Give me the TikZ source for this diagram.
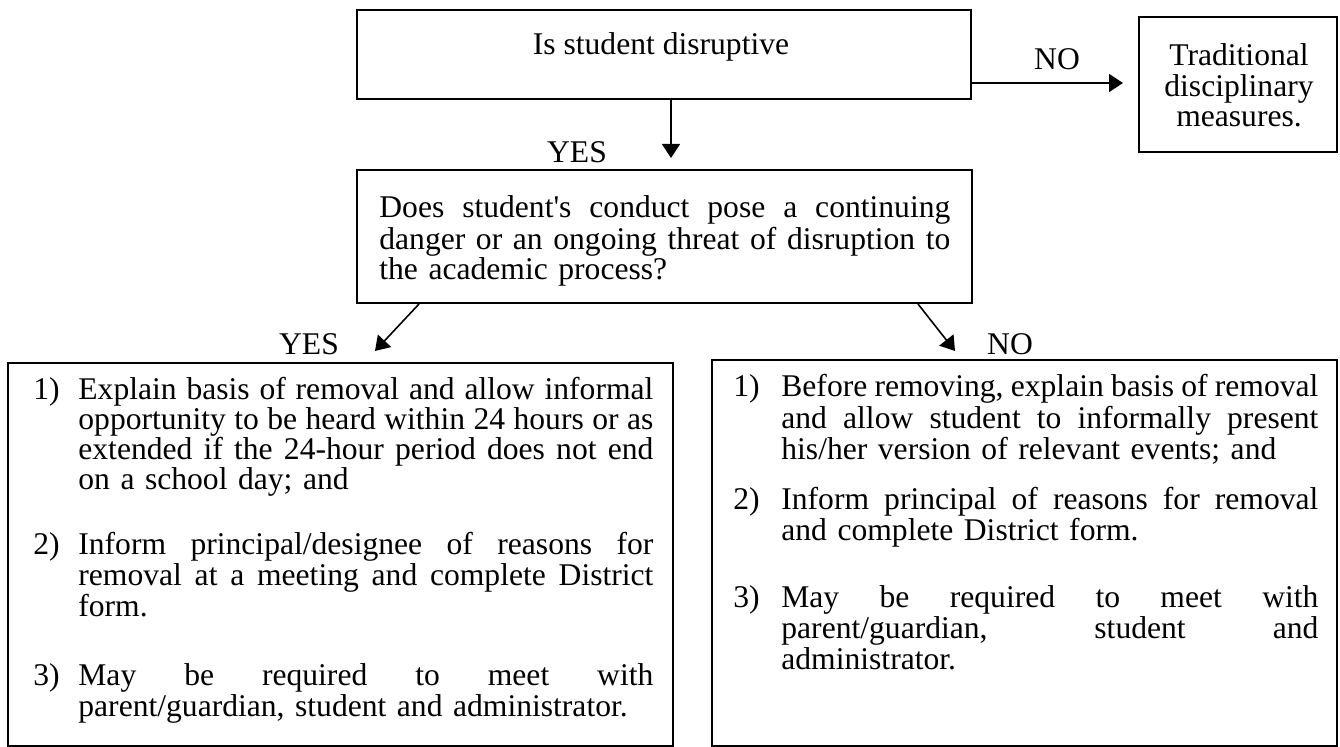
\documentclass[tikz,border=0pt]{standalone}
\usepackage{fontspec}
\setmainfont{Liberation Serif}
\usetikzlibrary{arrows.meta,fit}
\newlength\px \setlength\px{0.5pt}
\newcommand\fsz{\fontsize{15.8}{14}\selectfont}
\newcommand\fszw{\fontsize{15.8}{15}\selectfont}
\newcommand\jline[2]{\leavevmode\hbox to #1\px{\spaceskip=0.25em plus 1fil minus 0.09em\relax #2}}
\begin{document}
\begin{tikzpicture}[x=0.5pt,y=-0.5pt,
  box/.style={draw,line width=1pt,inner sep=0pt},
  txt/.style={inner sep=0pt,font=\fsz},
  para/.style={inner sep=0pt,anchor=base west,align=left,font=\fsz,text width=#1},
  arr/.style={line width=0.8pt,-{Triangle[length=7pt,width=9pt]}}]
\useasboundingbox (0,0) rectangle (1340,747);

% boxes
\node[box,fit={(357,10)(971,99)}] (q1) {};
\node[box,fit={(1139,17)(1337,152)}] (trad) {};
\node[box,fit={(357,170)(972,303)}] (q2) {};
\node[box,fit={(8,363)(673,746)}] (yesbox) {};
\node[box,fit={(712,360)(1337,746)}] (nobox) {};

% texts
\node[txt,anchor=base] (q1t) at (661,55) {Is student disruptive};
\node[txt,anchor=base] (nolab1) at (1057,70) {NO};
\node[inner sep=0pt,anchor=base,align=center,text width=180pt,
      font={\fontsize{15.8}{15.2}\selectfont}] (tradt) at (1239,66)
  {Traditional\\disciplinary\\measures.};
\node[txt,anchor=base] (yeslab1) at (577,163) {YES};
\node[para=290pt] (q2t) at (379,218) {%
\jline{571}{Does student\textquotesingle s conduct pose a continuing}\\
\jline{571}{danger or an ongoing threat of disruption to}\\
the academic process?};
\node[txt,anchor=base] (yeslab2) at (309,355) {YES};
\node[txt,anchor=base] (nolab2) at (1010,355) {NO};

% left box paragraphs
\node[para=312pt,font=\fszw] (y1) at (33,400) {%
\makebox[45\px][l]{1)}\jline{575}{Explain basis of removal and allow informal}\\
\hspace*{45\px}\jline{575}{opportunity to be heard within 24 hours or as}\\
\hspace*{45\px}\jline{575}{extended if the 24-hour period does not end}\\
\hspace*{45\px}on a school day; and};
\node[para=312pt] (y2) at (33,555) {%
\makebox[45\px][l]{2)}\jline{575}{Inform principal/designee of reasons for}\\
\hspace*{45\px}\jline{575}{removal at a meeting and complete District}\\
\hspace*{45\px}form.};
\node[para=312pt] (y3) at (33,686) {%
\makebox[45\px][l]{3)}\jline{575}{May be required to meet with}\\
\hspace*{45\px}parent/guardian, student and administrator.};

% right box paragraphs
\node[para=295pt] (n1) at (733,397) {%
\makebox[48\px][l]{1)}\jline{537}{Before removing, explain basis of removal}\\
\hspace*{48\px}\jline{537}{and allow student to informally present}\\
\hspace*{48\px}his/her version of relevant events; and};
\node[para=295pt] (n2) at (733,510) {%
\makebox[48\px][l]{2)}\jline{537}{Inform principal of reasons for removal}\\
\hspace*{48\px}and complete District form.};
\node[para=295pt] (n3) at (733,608) {%
\makebox[48\px][l]{3)}\jline{537}{May be required to meet with}\\
\hspace*{48\px}\jline{537}{parent/guardian, student and}\\
\hspace*{48\px}administrator.};

% connectors
\coordinate (t1) at (671,158);
\draw[arr] (q1.south -| t1) -- (t1);
\coordinate (t2) at (1123,83);
\draw[arr] (q1.east |- t2) -- (t2);
\path (q2.south west) ++(63,0) coordinate (s3);
\coordinate (t3) at (375,351);
\draw[arr] (s3) -- (t3);
\path (q2.south east) ++(-55,0) coordinate (s4);
\coordinate (t4) at (955,351);
\draw[arr] (s4) -- (t4);
\end{tikzpicture}
\end{document}
